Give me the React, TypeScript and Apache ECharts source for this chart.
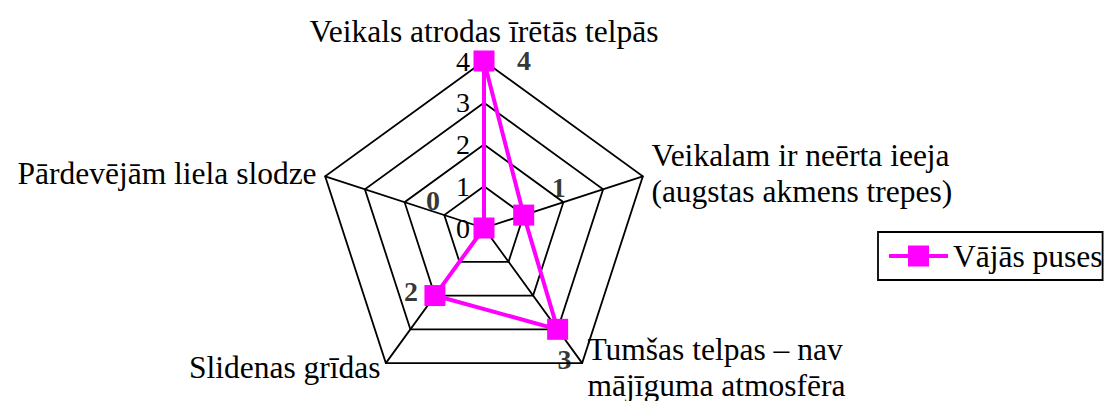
import React, { useEffect, useRef } from "react";
import * as echarts from "echarts";

// Indicators, counter-clockwise from the top
const indicators = [
  "Veikals atrodas īrētās telpās",
  "Pārdevējām liela slodze",
  "Slidenas grīdas",
  "Tumšas telpas – nav\nmājīguma atmosfēra",
  "Veikalam ir neērta ieeja\n(augstas akmens trepes)",
];
const seriesName = "Vājās puses";
const values = [4, 0, 2, 3, 1];
const scaleMax = 4;
const scaleStep = 1;

// Where each value label sits relative to its point (px)
const labelOffsets: [number, number][] = [
  [40, -1],
  [-51, -28],
  [-24, -4],
  [7, 30],
  [35, -28],
];

// Rich-text style used for each indicator name (nudges the top and lower names)
const nameStyles = ["top", "plain", "low", "low", "plain"];

const FONT = "'Liberation Serif', 'Times New Roman', serif";
const MAGENTA = "#ff00ff";
const CENTER = [484, 228];
const RADIUS = 167;
const NAME_SIZE = 31.5;
const NUM_SIZE = 28;

export default function App() {
  const ref = useRef<HTMLDivElement>(null);

  useEffect(() => {
    if (!ref.current) return;
    const chart = echarts.init(ref.current, undefined, { renderer: "svg" });
    const step = 360 / indicators.length;

    const nameText = {
      fontFamily: FONT,
      fontSize: NAME_SIZE,
      color: "#000",
      lineHeight: 36,
    };

    chart.setOption({
      animation: false,
      backgroundColor: "#ffffff",
      textStyle: { fontFamily: FONT },
      legend: {
        data: [seriesName],
        left: 878,
        top: 232,
        orient: "vertical",
        padding: [8, 0, 8, 11],
        borderColor: "#000",
        borderWidth: 1.8,
        backgroundColor: "#fff",
        itemWidth: 59,
        itemHeight: 21,
        icon: "path://M0,8.5H59V12.5H0Z M19,0H40V21H19Z",
        textStyle: {
          fontFamily: FONT,
          fontSize: NAME_SIZE,
          color: "#000",
        },
      },
      radar: {
        center: CENTER,
        radius: RADIUS,
        startAngle: 90,
        shape: "polygon",
        splitNumber: scaleMax / scaleStep,
        indicator: indicators.map((name) => ({ name, min: 0, max: scaleMax })),
        nameGap: 9,
        axisName: {
          ...nameText,
          formatter: (name: string) => {
            const style = nameStyles[indicators.indexOf(name)] || "plain";
            return name
              .split("\n")
              .map((line) => `{${style}|${line}}`)
              .join("\n");
          },
          rich: {
            plain: { ...nameText },
            top: { ...nameText, lineHeight: 32, padding: [0, 0, 10, 0] },
            low: { ...nameText, padding: [0, 0, 6, 0] },
          },
        },
        axisLine: { lineStyle: { color: "#000", width: 1.8 } },
        splitLine: { lineStyle: { color: "#000", width: 1.8 } },
        splitArea: { show: false },
        axisTick: { show: false },
        axisLabel: { show: false },
      },
      polar: { center: CENTER, radius: RADIUS },
      angleAxis: {
        type: "value",
        min: 0,
        max: 360,
        startAngle: 90,
        clockwise: false,
        show: false,
      },
      radiusAxis: {
        type: "value",
        min: 0,
        max: scaleMax,
        interval: scaleStep,
        axisLine: { show: false },
        axisTick: { show: false },
        splitLine: { show: false },
        axisLabel: {
          show: true,
          margin: 14,
          color: "#000",
          fontFamily: FONT,
          fontSize: NUM_SIZE,
        },
      },
      series: [
        {
          type: "radar",
          name: seriesName,
          symbol: "rect",
          symbolSize: 21,
          lineStyle: { color: MAGENTA, width: 4 },
          itemStyle: { color: MAGENTA },
          data: [{ name: seriesName, value: values }],
        },
        {
          type: "scatter",
          coordinateSystem: "polar",
          symbolSize: 1,
          itemStyle: { color: "transparent" },
          silent: true,
          z: 5,
          label: {
            show: true,
            position: "inside",
            color: "#000",
            textBorderWidth: 0,
            fontFamily: FONT,
            fontWeight: "bold",
            fontSize: NUM_SIZE,
            formatter: (p: any) => String(p.value[0]),
          },
          data: values.map((v, i) => ({
            value: [v, i * step],
            label: { offset: labelOffsets[i] },
          })),
        },
      ],
    });

    return () => chart.dispose();
  }, []);

  return (
    <div
      ref={ref}
      style={{ position: "absolute", left: 0, top: 0, width: 1109, height: 401 }}
    />
  );
}
